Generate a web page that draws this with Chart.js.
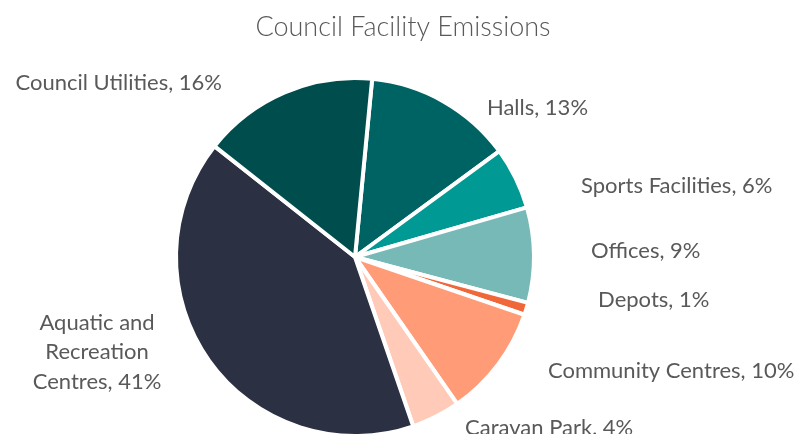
<!DOCTYPE html>
<html>
<head>
<meta charset="utf-8">
<script src="https://cdn.jsdelivr.net/npm/chart.js@4.4.1/dist/chart.umd.min.js"></script>
<style>
  html, body { margin: 0; padding: 0; background: #ffffff; overflow: hidden; }
  #wrap { position: relative; width: 796px; height: 460px; }
</style>
</head>
<body>
<div id="wrap"><canvas id="c" width="796" height="460"></canvas></div>
<script>
// ---- data ----
const chartTitle = 'Council Facility Emissions';
const categories = ['Halls', 'Sports Facilities', 'Offices', 'Depots', 'Community Centres', 'Caravan Park', 'Aquatic and Recreation Centres', 'Council Utilities'];
const labelLines = [['Halls'], ['Sports Facilities'], ['Offices'], ['Depots'], ['Community Centres'], ['Caravan Park'], ['Aquatic and', 'Recreation', 'Centres'], ['Council Utilities']];
const emissionShare = [13.4, 5.6, 8.6, 1.1, 10.1, 4.4, 40.9, 15.9];
const sliceColors = ['#006363', '#009994', '#77b9b6', '#f0683a', '#ff9b76', '#ffcab8', '#2b3042', '#004d4d'];

// ---- label layout (relative to pie centre, in units of radius) ----
const labelPlacement = [
  { x: 0.737, y: -0.832, align: 'left' },
  { x: 1.263, y: -0.397, align: 'left' },
  { x: 1.318, y: -0.034, align: 'left' },
  { x: 1.358, y: 0.240, align: 'left' },
  { x: 1.078, y: 0.637, align: 'left' },
  { x: 0.615, y: 0.955, align: 'left' },
  { x: -1.441, y: 0.531, align: 'center' },
  { x: -0.743, y: -0.972, align: 'right' }
];

const textColor = '#595959';
const labelFont = '400 22px Lato, "Open Sans", sans-serif';
const titleFont = '300 27px Lato, "Open Sans", sans-serif';
const lineHeight = 29.5;

const labelPlugin = {
  id: 'excelLabels',
  afterDraw(chart) {
    const ctx = chart.ctx;
    const meta = chart.getDatasetMeta(0);
    const total = emissionShare.reduce((a, b) => a + b, 0);
    ctx.save();
    // title
    ctx.fillStyle = textColor;
    ctx.font = titleFont;
    ctx.textAlign = 'center';
    ctx.textBaseline = 'middle';
    ctx.fillText(chartTitle, 403, 27);
    // data labels
    ctx.font = labelFont;
    meta.data.forEach((arc, i) => {
      const p = arc.getProps(['x', 'y', 'outerRadius'], true);
      const pl = labelPlacement[i];
      const pct = Math.round(emissionShare[i] / total * 100) + '%';
      const lines = labelLines[i].slice();
      lines[lines.length - 1] = lines[lines.length - 1] + ', ' + pct;
      const x = p.x + pl.x * p.outerRadius;
      const yMid = p.y + pl.y * p.outerRadius;
      ctx.textAlign = pl.align;
      const y0 = yMid - (lines.length - 1) * lineHeight / 2;
      lines.forEach((ln, k) => ctx.fillText(ln, x, y0 + k * lineHeight));
    });
    ctx.restore();
  }
};

new Chart(document.getElementById('c'), {
  type: 'pie',
  data: {
    labels: categories,
    datasets: [{
      data: emissionShare,
      backgroundColor: sliceColors,
      borderColor: '#ffffff',
      borderWidth: 4
    }]
  },
  options: {
    responsive: false,
    animation: false,
    rotation: 5.5,
    radius: 179,
    layout: { padding: { left: 176, right: 262, top: 78, bottom: 24 } },
    plugins: {
      legend: { display: false },
      title: { display: false },
      tooltip: { enabled: false }
    }
  },
  plugins: [labelPlugin]
});
</script>
</body>
</html>
